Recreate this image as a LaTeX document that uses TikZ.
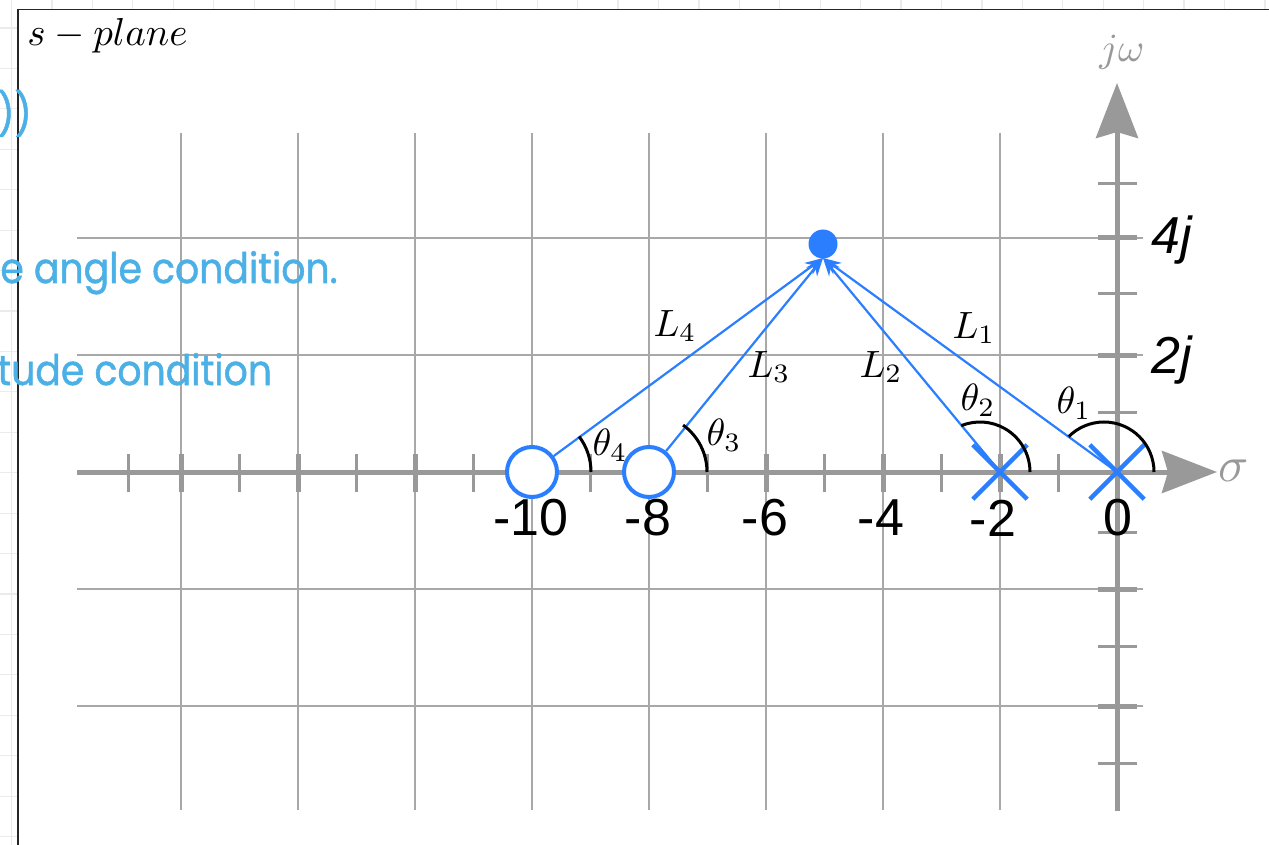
\documentclass[tikz,border=0pt]{standalone}
\usepackage{fontspec}
\newfontfamily\labfont{Liberation Sans}
\newfontfamily\handfont[FakeBold=1.2]{Poppins}
\usetikzlibrary{arrows.meta,shapes.misc}
\newcommand{\mlab}[2]{\scalebox{#1}{$#2$}}
\newcommand{\hand}[1]{\scalebox{0.9}[1]{#1}}
\definecolor{axgray}{HTML}{999999}
\definecolor{gridgray}{HTML}{A8A8A8}
\definecolor{faintgray}{HTML}{EBEBEB}
\definecolor{pzblue}{HTML}{2B7FFF}
\definecolor{txtblue}{HTML}{4AB0E6}
\tikzset{
 gridline/.style={draw=gridgray, line width=0.7pt},
 axisline/.style={draw=axgray, line width=2.5pt, -{Stealth[length=27.5pt,width=21pt,inset=3pt]}},
 majtick/.style={draw=axgray, line width=2.5pt},
 mintick/.style={draw=axgray, line width=1.5pt},
 zeromark/.style={circle, draw=pzblue, line width=2pt, fill=white, minimum size=25pt, inner sep=0pt},
 polemark/.style={cross out, draw=pzblue, line width=2.2pt, minimum size=25pt, inner sep=0pt},
 testpt/.style={circle, fill=pzblue, minimum size=14.5pt, inner sep=0pt},
 vecline/.style={draw=pzblue, line width=1.1pt, -{Stealth[length=9pt,width=7pt]}},
 anglearc/.style={draw=black, line width=1.5pt},
 mathlab/.style={inner sep=0pt},
 numlab/.style={font=\labfont\fontsize{26}{30}\selectfont, inner sep=0pt},
 handtext/.style={font=\handfont\fontsize{21}{25}\selectfont, text=txtblue, inner sep=0pt, anchor=base west},
}
\begin{document}
\begin{tikzpicture}[x=0.5pt, y=-0.5pt]
\useasboundingbox (0,0) rectangle (1269,845);
\clip (0,0) rectangle (1269,845);
\fill[white] (0,0) rectangle (1269,845);
% faint editor grid outside the frame
\foreach \i in {0,...,31} \draw[faintgray, line width=0.6pt] ({11.6+40.43*\i},0) -- ++(0,9);
\foreach \i in {0,...,20} \draw[faintgray, line width=0.6pt] (0,{28+40.43*\i}) -- (17,{28+40.43*\i});
\draw[faintgray, line width=0.6pt] (11.6,0) -- (11.6,845);
% frame
\draw[black!85, line width=0.8pt] (18,845) -- (18,9.5) -- (1269,9.5);
% grid
\foreach \v in {-16,-14,...,-2} \draw[gridline] ({1117+58.5*\v},133) -- ({1117+58.5*\v},810);
\foreach \v in {-4,-2,2,4} \draw[gridline] (77,{472-58.5*\v}) -- (1143,{472-58.5*\v});
% axes
\coordinate (xs) at (77,472);
\coordinate (xe) at (1217,472);
\coordinate (yb) at (1117,811);
\coordinate (yt) at (1117,83);
\draw[axisline] (xs) -- (xe);
\draw[axisline] (yb) -- (yt);
% ticks
\foreach \px in {128,239.5,356.5,473.5,590.5,707.5,824.5,941.5,1058.5} \draw[mintick] (\px,454) -- ++(0,38);
\foreach \v in {-16,-14,...,-2} \draw[majtick] ({1117+58.5*\v},454) -- ++(0,38);
\foreach \py in {184,294,412,532,646,763} \draw[mintick] (1098,\py) -- (1137,\py);
\foreach \v in {-4,-2,2,4} \draw[majtick] (1098,{472-58.5*\v}) -- (1137,{472-58.5*\v});
% poles and zeros
\node[zeromark] (z10) at (532,472) {};
\node[zeromark] (z8) at (649,472) {};
\coordinate (stip) at (823,258);
\coordinate (p2c) at (1000,472);
\coordinate (p0c) at (1117,472);
% vectors
\draw[vecline] (z10) -- (stip);
\draw[vecline] (z8) -- (stip);
\draw[vecline] (p2c) -- (stip);
\draw[vecline] (p0c) -- (stip);
\node[polemark] (p2) at (p2c) {};
\node[polemark] (p0) at (p0c) {};
% angle arcs
\draw[anglearc] (591,472) arc[start angle=0, end angle=-37, radius=59];
\draw[anglearc] (707,472) arc[start angle=0, end angle=-54, radius=58];
\draw[anglearc] (1030,472) arc[start angle=0, end angle=-112, radius=50];
\draw[anglearc] (1154,472) arc[start angle=0, end angle=-135, radius=50];
% test point
\node[testpt] (s) at (823,244) {};
% labels
\node[mathlab, anchor=base west] (title) at (27,46) {\mlab{1.95}{s-plane}};
\node[mathlab, text=axgray] (jw) at (1122,52) {\mlab{2}{j\omega}};
\node[mathlab, text=axgray] (sig) at (1234,471) {\mlab{2.5}{\sigma}};
\node[mathlab] (l4) at (675,326) {\mlab{1.9}{L_4}};
\node[mathlab] (l3) at (769,367) {\mlab{1.9}{L_3}};
\node[mathlab] (l2) at (881,367) {\mlab{1.9}{L_2}};
\node[mathlab] (l1) at (974,328) {\mlab{1.9}{L_1}};
\node[mathlab] (t4) at (610,445) {\mlab{1.9}{\theta_4}};
\node[mathlab] (t3) at (724,435) {\mlab{1.9}{\theta_3}};
\node[mathlab] (t2) at (978,400) {\mlab{1.9}{\theta_2}};
\node[mathlab] (t1) at (1074,403) {\mlab{1.9}{\theta_1}};
\node[numlab] (n10) at (531,518) {-10};
\node[numlab] (n8) at (648,518) {-8};
\node[numlab] (n6) at (765,518) {-6};
\node[numlab] (n4) at (881,518) {-4};
\node[numlab] (n2) at (993,518) {-2};
\node[numlab] (n0) at (1118,518) {0};
\node[numlab, anchor=base west] (j4) at (1151,254) {\itshape 4j};
\node[numlab, anchor=base west] (j2) at (1151,373) {\itshape 2j};
% clipped blue text
\node[handtext] (h0) at (-3,129) {\hand{))}};
\node[handtext] (h1) at (0,283) {\hand{e angle condition.}};
\node[handtext] (h2) at (-3,385) {\hand{tude condition}};
\end{tikzpicture}
\end{document}
